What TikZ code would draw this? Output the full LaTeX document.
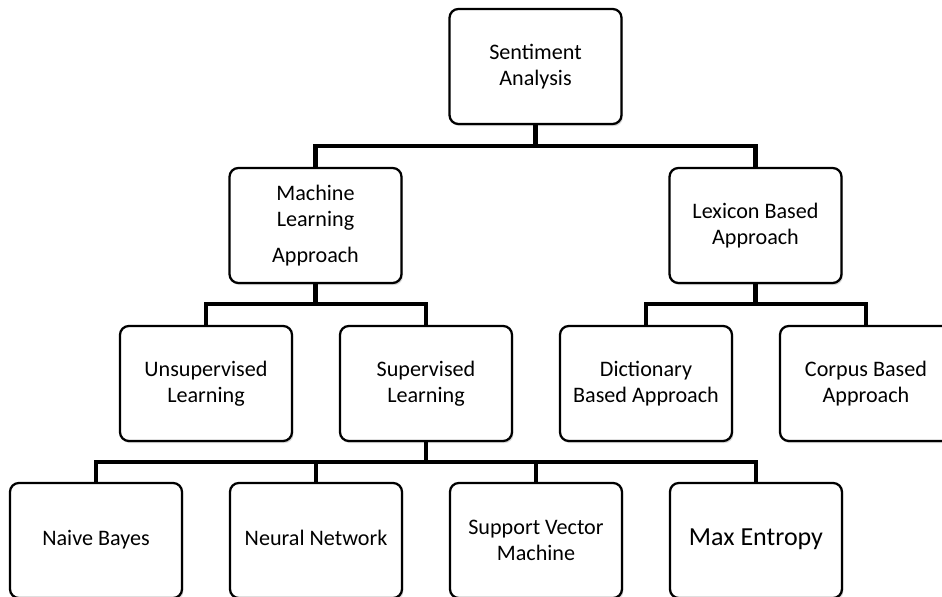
\documentclass[tikz,border=0pt]{standalone}
\usepackage{fontspec}
\setmainfont{Carlito}
\usetikzlibrary{
    positioning,
    shadows
}
\tikzset{
  box/.style    = {draw, line width=1.3pt, rounded corners=5pt, fill=white,
                   minimum width=3.44cm, minimum height=2.3cm, align=center,
                   font=\fontsize{12.6}{14.5}\selectfont,
                   drop shadow={shadow xshift=0.8pt, shadow yshift=-1.2pt,
                                opacity=0.3}},
  oneline/.style = {text height=1.75ex, text depth=0.5ex},
  link/.style   = {line width=2.4pt}
}

\begin{document}
\begin{tikzpicture}[
  x=0.02cm, y=-0.02cm,
  node distance=0.86cm and 0.915cm
]
\useasboundingbox (0,0) rectangle (942,597);

%% --- Levels 1 and 2 ---
\node[box] (SA) at (535.5,66.5) {Sentiment\\Analysis};
\node[box] (ML) at (315.5,225.5) {Machine\\Learning\\[6pt]Approach};
\node[box] (LX) at (755.5,225.5) {Lexicon Based\\Approach};

%% --- Level 3 ---
\node[box] (UL) at (206,383.5) {Unsupervised\\Learning};
\node[box, right=of UL] (SL) {Supervised\\Learning};
\node[box, right=of SL] (DA) {Dictionary\\Based Approach};
\node[box, right=of DA] (CA) {Corpus Based\\Approach};

%% --- Level 4 ---
\node[box, oneline] (NB) at (96,540.5) {Naive Bayes};
\node[box, oneline, right=of NB] (NN) {Neural Network};
\node[box, right=of NN] (SVM) {Support Vector\\Machine};
\node[box, oneline, right=of SVM, font=\fontsize{14.8}{17}\selectfont] (ME) {Max Entropy};

%% --- Bus levels ---
\coordinate (bus1) at (0,146);
\coordinate (bus2) at (0,304);
\coordinate (bus3) at (0,462);

%% --- Connectors ---
\draw[link] (SA.south) -- (SA.south |- bus1);
\draw[link] (ML.north) -- (ML.north |- bus1) -- (LX.north |- bus1) -- (LX.north);

\draw[link] (ML.south) -- (ML.south |- bus2);
\draw[link] (UL.north) -- (UL.north |- bus2) -- (SL.north |- bus2) -- (SL.north);

\draw[link] (LX.south) -- (LX.south |- bus2);
\draw[link] (DA.north) -- (DA.north |- bus2) -- (CA.north |- bus2) -- (CA.north);

\draw[link] (SL.south) -- (SL.south |- bus3);
\draw[link] (NB.north) -- (NB.north |- bus3) -- (ME.north |- bus3) -- (ME.north);
\draw[link] (NN.north) -- (NN.north |- bus3);
\draw[link] (SVM.north) -- (SVM.north |- bus3);

\end{tikzpicture}
\end{document}
